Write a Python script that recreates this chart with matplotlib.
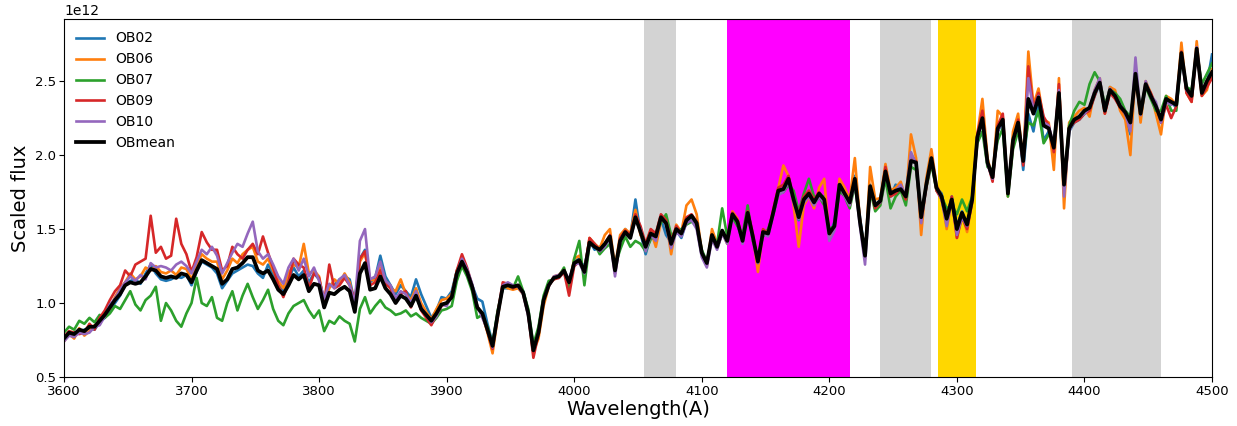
import numpy as np
import matplotlib
matplotlib.use('Agg')
import matplotlib.pyplot as plt

# wavelength grid (A), 4 A sampling
wave = np.arange(3600, 4501, 4)

# scaled flux values, in units of 1e12
ob02 = [0.75, 0.78, 0.80, 0.80, 0.82, 0.83, 0.82, 0.87, 0.90, 0.95,
        1.00, 1.05, 1.13, 1.15, 1.16, 1.13, 1.20, 1.26, 1.20, 1.16,
        1.15, 1.16, 1.18, 1.17, 1.19, 1.12, 1.21, 1.28, 1.26, 1.24,
        1.20, 1.10, 1.15, 1.20, 1.22, 1.24, 1.26, 1.25, 1.20, 1.17,
        1.26, 1.20, 1.12, 1.08, 1.16, 1.24, 1.18, 1.22, 1.14, 1.20,
        1.16, 1.02, 1.12, 1.12, 1.16, 1.18, 1.16, 1.00, 1.30, 1.36,
        1.14, 1.17, 1.32, 1.18, 1.12, 1.06, 1.12, 1.08, 1.04, 1.16,
        1.06, 0.98, 0.90, 0.95, 1.04, 1.03, 1.08, 1.22, 1.27, 1.20,
        1.12, 1.03, 1.01, 0.86, 0.73, 0.93, 1.10, 1.10, 1.12, 1.11,
        1.08, 0.94, 0.70, 0.82, 1.03, 1.12, 1.17, 1.17, 1.21, 1.15,
        1.28, 1.30, 1.24, 1.42, 1.36, 1.38, 1.38, 1.44, 1.24, 1.43,
        1.50, 1.45, 1.70, 1.47, 1.33, 1.45, 1.42, 1.57, 1.46, 1.41,
        1.49, 1.44, 1.55, 1.57, 1.52, 1.33, 1.26, 1.46, 1.37, 1.48,
        1.41, 1.60, 1.53, 1.42, 1.60, 1.44, 1.27, 1.47, 1.46, 1.60,
        1.74, 1.76, 1.82, 1.68, 1.56, 1.69, 1.72, 1.66, 1.72, 1.72,
        1.45, 1.55, 1.82, 1.74, 1.66, 1.86, 1.58, 1.33, 1.80, 1.66,
        1.70, 1.90, 1.72, 1.80, 1.78, 1.74, 2.00, 1.96, 1.56, 1.80,
        1.96, 1.78, 1.74, 1.58, 1.72, 1.52, 1.62, 1.52, 1.70, 2.12,
        2.26, 1.96, 1.86, 2.16, 2.22, 1.76, 2.12, 2.22, 1.90, 2.28,
        2.16, 2.36, 2.10, 2.16, 2.02, 2.40, 1.74, 2.16, 2.22, 2.24,
        2.28, 2.30, 2.40, 2.48, 2.30, 2.46, 2.42, 2.34, 2.26, 2.14,
        2.54, 2.26, 2.46, 2.40, 2.32, 2.22, 2.38, 2.36, 2.32, 2.66,
        2.44, 2.40, 2.70, 2.44, 2.48, 2.68]

ob06 = [0.74, 0.79, 0.76, 0.83, 0.78, 0.81, 0.85, 0.86, 0.94, 0.96,
        1.04, 1.10, 1.14, 1.20, 1.16, 1.18, 1.24, 1.22, 1.25, 1.21,
        1.20, 1.22, 1.19, 1.24, 1.23, 1.16, 1.25, 1.33, 1.30, 1.28,
        1.28, 1.16, 1.22, 1.30, 1.27, 1.33, 1.36, 1.38, 1.28, 1.26,
        1.30, 1.22, 1.15, 1.10, 1.20, 1.26, 1.24, 1.40, 1.20, 1.22,
        1.18, 1.00, 1.10, 1.16, 1.13, 1.20, 1.14, 0.98, 1.28, 1.34,
        1.16, 1.15, 1.24, 1.15, 1.10, 1.08, 1.16, 1.06, 1.02, 1.10,
        1.00, 0.94, 0.89, 0.96, 1.02, 1.03, 1.06, 1.22, 1.30, 1.22,
        1.10, 0.98, 0.92, 0.80, 0.66, 0.90, 1.12, 1.10, 1.09, 1.10,
        1.06, 0.92, 0.67, 0.76, 0.98, 1.11, 1.18, 1.19, 1.23, 1.12,
        1.30, 1.32, 1.20, 1.44, 1.40, 1.37, 1.46, 1.50, 1.24, 1.46,
        1.50, 1.47, 1.63, 1.46, 1.40, 1.49, 1.38, 1.55, 1.56, 1.33,
        1.53, 1.48, 1.66, 1.70, 1.60, 1.35, 1.25, 1.50, 1.40, 1.48,
        1.40, 1.62, 1.57, 1.41, 1.62, 1.46, 1.21, 1.49, 1.48, 1.62,
        1.78, 1.93, 1.86, 1.66, 1.38, 1.66, 1.72, 1.64, 1.78, 1.84,
        1.44, 1.50, 1.84, 1.78, 1.70, 1.98, 1.56, 1.30, 1.92, 1.70,
        1.71, 1.94, 1.76, 1.78, 1.82, 1.70, 2.14, 1.98, 1.46, 1.84,
        2.04, 1.80, 1.72, 1.50, 1.70, 1.44, 1.60, 1.48, 1.70, 2.14,
        2.38, 1.98, 1.84, 2.30, 2.26, 1.72, 2.16, 2.28, 1.95, 2.70,
        2.34, 2.45, 2.24, 2.22, 1.90, 2.52, 1.64, 2.22, 2.26, 2.30,
        2.32, 2.26, 2.44, 2.52, 2.28, 2.46, 2.44, 2.30, 2.24, 2.00,
        2.58, 2.22, 2.50, 2.42, 2.28, 2.14, 2.40, 2.38, 2.34, 2.76,
        2.42, 2.36, 2.77, 2.40, 2.44, 2.58]

ob07 = [0.80, 0.84, 0.82, 0.88, 0.86, 0.90, 0.87, 0.92, 0.90, 0.93,
        0.98, 0.96, 1.02, 1.08, 0.99, 0.95, 1.02, 1.05, 1.11, 0.88,
        1.00, 0.95, 0.88, 0.84, 0.93, 1.00, 1.17, 1.00, 0.98, 1.04,
        0.90, 0.88, 1.00, 1.08, 0.95, 1.05, 1.13, 1.04, 0.96, 1.02,
        1.09, 0.96, 0.88, 0.85, 0.93, 0.98, 1.00, 1.02, 0.95, 0.90,
        0.95, 0.81, 0.88, 0.86, 0.91, 0.88, 0.86, 0.74, 0.96, 1.04,
        0.93, 0.98, 1.02, 0.97, 0.95, 0.92, 0.93, 0.95, 0.91, 0.93,
        0.90, 0.88, 0.86, 0.90, 0.95, 0.96, 0.98, 1.15, 1.25, 1.18,
        1.08, 0.90, 0.92, 0.84, 0.72, 0.95, 1.10, 1.12, 1.10, 1.18,
        1.08, 0.96, 0.72, 0.84, 1.05, 1.15, 1.16, 1.18, 1.24, 1.10,
        1.30, 1.42, 1.12, 1.40, 1.40, 1.33, 1.37, 1.40, 1.25, 1.36,
        1.45, 1.38, 1.42, 1.40, 1.35, 1.43, 1.48, 1.54, 1.60, 1.46,
        1.48, 1.50, 1.53, 1.55, 1.52, 1.36, 1.28, 1.45, 1.40, 1.64,
        1.45, 1.58, 1.52, 1.46, 1.66, 1.42, 1.32, 1.45, 1.50, 1.60,
        1.74, 1.75, 1.80, 1.76, 1.62, 1.74, 1.84, 1.72, 1.72, 1.66,
        1.50, 1.52, 1.76, 1.72, 1.64, 1.80, 1.55, 1.35, 1.76, 1.62,
        1.66, 1.84, 1.64, 1.72, 1.76, 1.66, 1.92, 1.90, 1.60, 1.78,
        1.94, 1.76, 1.72, 1.64, 1.66, 1.60, 1.70, 1.62, 1.72, 2.08,
        2.16, 1.92, 1.90, 2.10, 2.18, 1.72, 2.04, 2.16, 2.00, 2.22,
        2.20, 2.30, 2.08, 2.14, 2.10, 2.36, 1.82, 2.20, 2.30, 2.36,
        2.34, 2.48, 2.56, 2.50, 2.34, 2.44, 2.42, 2.38, 2.30, 2.26,
        2.50, 2.32, 2.46, 2.38, 2.30, 2.30, 2.40, 2.30, 2.30, 2.68,
        2.46, 2.44, 2.70, 2.48, 2.55, 2.62]

ob09 = [0.77, 0.81, 0.80, 0.79, 0.80, 0.86, 0.82, 0.90, 0.95, 1.02,
        1.08, 1.12, 1.22, 1.18, 1.26, 1.28, 1.30, 1.59, 1.34, 1.38,
        1.30, 1.32, 1.57, 1.40, 1.33, 1.21, 1.31, 1.48, 1.41, 1.36,
        1.36, 1.22, 1.25, 1.38, 1.33, 1.30, 1.36, 1.40, 1.33, 1.45,
        1.34, 1.24, 1.12, 1.04, 1.14, 1.30, 1.26, 1.24, 1.10, 1.20,
        1.17, 1.00, 1.26, 1.10, 1.12, 1.17, 1.12, 1.02, 1.30, 1.35,
        1.12, 1.14, 1.22, 1.13, 1.10, 1.00, 1.06, 1.08, 0.97, 1.06,
        0.95, 0.90, 0.85, 0.92, 0.98, 1.00, 1.04, 1.22, 1.33, 1.24,
        1.12, 0.97, 0.92, 0.81, 0.69, 0.93, 1.14, 1.13, 1.10, 1.12,
        1.07, 0.92, 0.63, 0.79, 1.02, 1.12, 1.16, 1.17, 1.21, 1.05,
        1.25, 1.28, 1.22, 1.44, 1.40, 1.36, 1.40, 1.46, 1.20, 1.44,
        1.49, 1.46, 1.60, 1.52, 1.40, 1.50, 1.47, 1.60, 1.56, 1.42,
        1.52, 1.47, 1.58, 1.60, 1.55, 1.33, 1.26, 1.46, 1.37, 1.47,
        1.43, 1.61, 1.56, 1.42, 1.62, 1.47, 1.27, 1.50, 1.47, 1.63,
        1.78, 1.80, 1.86, 1.70, 1.60, 1.72, 1.76, 1.70, 1.75, 1.70,
        1.47, 1.52, 1.80, 1.74, 1.66, 1.84, 1.56, 1.32, 1.78, 1.64,
        1.68, 1.92, 1.72, 1.74, 1.78, 1.70, 1.97, 1.96, 1.56, 1.78,
        1.98, 1.76, 1.70, 1.55, 1.72, 1.44, 1.58, 1.50, 1.68, 2.14,
        2.30, 1.95, 1.82, 2.20, 2.28, 1.74, 2.08, 2.24, 1.93, 2.60,
        2.32, 2.42, 2.26, 2.20, 2.02, 2.48, 1.80, 2.18, 2.22, 2.24,
        2.28, 2.30, 2.40, 2.50, 2.28, 2.42, 2.38, 2.32, 2.28, 2.20,
        2.52, 2.28, 2.48, 2.42, 2.34, 2.22, 2.34, 2.25, 2.33, 2.70,
        2.42, 2.36, 2.72, 2.40, 2.46, 2.52]

ob10 = [0.74, 0.78, 0.77, 0.80, 0.79, 0.80, 0.84, 0.85, 0.91, 0.99,
        1.03, 1.09, 1.14, 1.18, 1.15, 1.19, 1.16, 1.27, 1.24, 1.25,
        1.24, 1.22, 1.26, 1.28, 1.25, 1.20, 1.28, 1.36, 1.33, 1.38,
        1.32, 1.20, 1.27, 1.34, 1.40, 1.38, 1.47, 1.55, 1.35, 1.30,
        1.33, 1.26, 1.18, 1.13, 1.24, 1.30, 1.22, 1.30, 1.18, 1.24,
        1.15, 1.03, 1.13, 1.10, 1.16, 1.19, 1.12, 1.00, 1.42, 1.50,
        1.16, 1.18, 1.28, 1.15, 1.12, 1.03, 1.08, 1.06, 1.00, 1.08,
        0.97, 0.92, 0.87, 0.91, 0.99, 0.98, 1.05, 1.20, 1.30, 1.23,
        1.13, 0.98, 0.90, 0.82, 0.70, 0.91, 1.12, 1.14, 1.12, 1.11,
        1.06, 0.91, 0.68, 0.80, 1.02, 1.11, 1.18, 1.19, 1.22, 1.16,
        1.26, 1.27, 1.20, 1.40, 1.38, 1.35, 1.38, 1.44, 1.18, 1.42,
        1.47, 1.44, 1.56, 1.50, 1.35, 1.46, 1.42, 1.58, 1.53, 1.37,
        1.48, 1.45, 1.54, 1.56, 1.50, 1.31, 1.24, 1.43, 1.36, 1.47,
        1.40, 1.59, 1.55, 1.40, 1.60, 1.43, 1.27, 1.47, 1.45, 1.60,
        1.73, 1.75, 1.82, 1.68, 1.57, 1.68, 1.72, 1.66, 1.72, 1.68,
        1.42, 1.49, 1.80, 1.72, 1.66, 1.82, 1.52, 1.26, 1.77, 1.66,
        1.68, 1.88, 1.74, 1.76, 1.80, 1.72, 2.02, 1.94, 1.54, 1.80,
        1.98, 1.78, 1.70, 1.52, 1.70, 1.46, 1.58, 1.52, 1.70, 2.12,
        2.22, 1.94, 1.84, 2.16, 2.24, 1.76, 2.10, 2.20, 1.96, 2.52,
        2.30, 2.40, 2.22, 2.20, 2.06, 2.44, 1.72, 2.16, 2.24, 2.26,
        2.28, 2.32, 2.44, 2.52, 2.30, 2.45, 2.40, 2.34, 2.28, 2.16,
        2.66, 2.27, 2.50, 2.40, 2.36, 2.22, 2.36, 2.34, 2.36, 2.68,
        2.44, 2.40, 2.73, 2.44, 2.50, 2.56]

obmean = [0.76, 0.80, 0.79, 0.82, 0.81, 0.84, 0.84, 0.88, 0.92, 0.97,
          1.02, 1.06, 1.12, 1.14, 1.13, 1.14, 1.18, 1.23, 1.22, 1.18,
          1.17, 1.18, 1.17, 1.20, 1.19, 1.14, 1.22, 1.29, 1.27, 1.25,
          1.23, 1.13, 1.16, 1.23, 1.24, 1.27, 1.31, 1.31, 1.22, 1.20,
          1.22, 1.16, 1.09, 1.06, 1.12, 1.19, 1.16, 1.19, 1.08, 1.13,
          1.12, 0.97, 1.07, 1.06, 1.09, 1.11, 1.08, 0.94, 1.20, 1.27,
          1.09, 1.10, 1.18, 1.10, 1.06, 1.00, 1.05, 1.03, 0.98, 1.05,
          0.96, 0.92, 0.88, 0.93, 0.99, 1.00, 1.04, 1.20, 1.28, 1.21,
          1.11, 0.97, 0.93, 0.82, 0.71, 0.92, 1.11, 1.12, 1.11, 1.12,
          1.07, 0.93, 0.68, 0.80, 1.02, 1.12, 1.17, 1.18, 1.22, 1.14,
          1.27, 1.29, 1.21, 1.41, 1.38, 1.36, 1.40, 1.45, 1.22, 1.42,
          1.48, 1.44, 1.58, 1.48, 1.38, 1.47, 1.45, 1.58, 1.54, 1.40,
          1.50, 1.47, 1.56, 1.59, 1.54, 1.34, 1.27, 1.46, 1.38, 1.49,
          1.42, 1.60, 1.55, 1.42, 1.61, 1.45, 1.28, 1.48, 1.47, 1.61,
          1.76, 1.77, 1.84, 1.70, 1.58, 1.70, 1.74, 1.68, 1.74, 1.70,
          1.47, 1.52, 1.80, 1.74, 1.68, 1.84, 1.55, 1.32, 1.79, 1.66,
          1.69, 1.89, 1.74, 1.76, 1.77, 1.72, 1.96, 1.95, 1.58, 1.80,
          1.98, 1.78, 1.72, 1.57, 1.70, 1.50, 1.61, 1.53, 1.70, 2.12,
          2.25, 1.95, 1.85, 2.18, 2.24, 1.74, 2.10, 2.22, 1.96, 2.38,
          2.28, 2.39, 2.20, 2.18, 2.05, 2.42, 1.80, 2.18, 2.24, 2.26,
          2.30, 2.32, 2.42, 2.49, 2.30, 2.44, 2.40, 2.33, 2.29, 2.22,
          2.55, 2.28, 2.48, 2.40, 2.33, 2.24, 2.38, 2.36, 2.34, 2.69,
          2.45, 2.40, 2.72, 2.42, 2.50, 2.56]

names = ['OB02', 'OB06', 'OB07', 'OB09', 'OB10']
series = [ob02, ob06, ob07, ob09, ob10]

# masked wavelength windows (A)
grey_bands = [(4055, 4080), (4240, 4280), (4390, 4460)]
magenta_band = (4120, 4216)
gold_band = (4285, 4315)

fig = plt.figure(figsize=(12.37, 4.26), dpi=100)
ax = fig.add_axes([0.0517, 0.115, 0.9281, 0.8404])

for lo, hi in grey_bands:
    ax.axvspan(lo, hi, color='lightgrey', lw=0, zorder=0)
ax.axvspan(*magenta_band, color='magenta', lw=0, zorder=0)
ax.axvspan(*gold_band, color='gold', lw=0, zorder=0)

for name, s in zip(names, series):
    ax.plot(wave, np.array(s) * 1e12, lw=1.9, label=name)
ax.plot(wave, np.array(obmean) * 1e12, color='black', lw=2.7, label='OBmean')

ax.set_xlim(3600, 4500)
ax.set_ylim(0.5e12, 2.92e12)
ax.tick_params(labelsize=9.5, pad=2)
ax.set_xlabel('Wavelength(A)', fontsize=14, labelpad=2)
ax.set_ylabel('Scaled flux', fontsize=14)
ax.legend(loc='upper left', frameon=False, fontsize=10)

fig.savefig('out.png', dpi=100)
